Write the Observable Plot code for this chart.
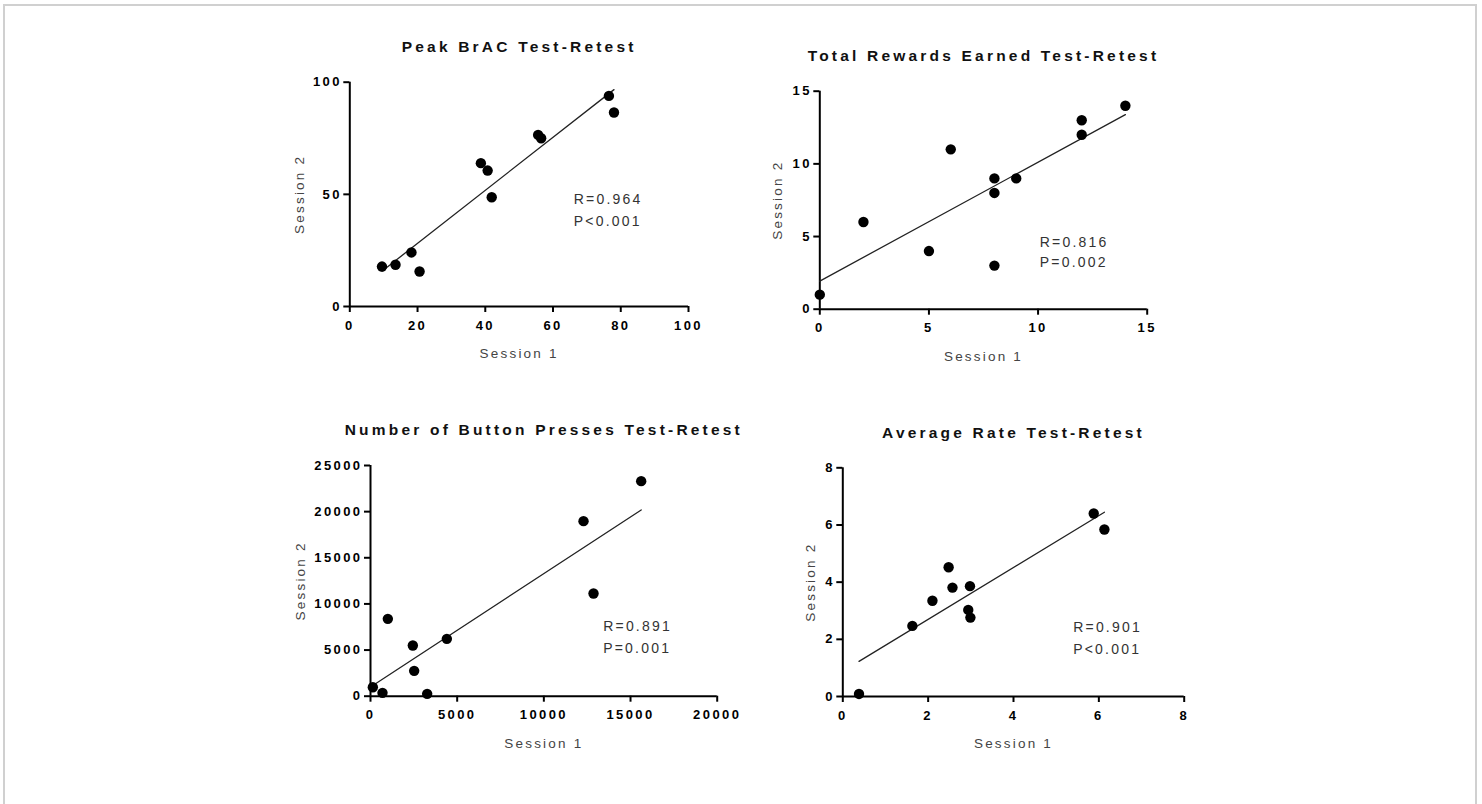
<!DOCTYPE html>
<html><head><meta charset="utf-8">
<script src="https://cdn.jsdelivr.net/npm/d3@7"></script>
<script src="https://cdn.jsdelivr.net/npm/@observablehq/plot@0.6"></script>
<style>
body{margin:0;background:#fff;}
#page{position:relative;width:1482px;height:804px;overflow:hidden;font-family:"Liberation Sans",Arial,sans-serif;background:#fff;}
#border{position:absolute;left:3px;top:4px;width:1474px;height:840px;border:2px solid #d0d0d0;box-sizing:border-box;}
.panel{position:absolute;}
</style></head><body><div id="page"><div id="border"></div></div>
<script>
// ---- data ----
const titles = ["Peak BrAC Test-Retest", "Total Rewards Earned Test-Retest", "Number of Button Presses Test-Retest", "Average Rate Test-Retest"];
const xLabel = "Session 1";
const yLabel = "Session 2";
const statR = ["R=0.964", "R=0.816", "R=0.891", "R=0.901"];
const statP = ["P<0.001", "P=0.002", "P=0.001", "P<0.001"];

const bracS1 = [9.5, 13.5, 18.2, 20.6, 38.7, 40.7, 41.9, 55.6, 56.5, 76.5, 78.0];
const bracS2 = [17.8, 18.6, 24.1, 15.6, 63.9, 60.6, 48.7, 76.5, 75.0, 93.9, 86.5];
const rewardsS1 = [0, 2, 5, 6, 8, 8, 8, 9, 12, 12, 14];
const rewardsS2 = [1, 6, 4, 11, 9, 8, 3, 9, 13, 12, 14];
const pressesS1 = [135, 692, 1000, 2442, 2519, 3269, 4404, 12288, 12865, 15615];
const pressesS2 = [975, 361, 8382, 5492, 2746, 253, 6214, 18968, 11128, 23304];
const rateS1 = [0.38, 1.63, 2.10, 2.48, 2.57, 2.98, 2.94, 2.99, 5.88, 6.13];
const rateS2 = [0.09, 2.47, 3.35, 4.52, 3.81, 3.86, 3.03, 2.76, 6.40, 5.84];

const bracTicksX = [0, 20, 40, 60, 80, 100];
const bracTicksY = [0, 50, 100];
const rewardsTicks = [0, 5, 10, 15];
const pressesTicksX = [0, 5000, 10000, 15000, 20000];
const pressesTicksY = [0, 5000, 10000, 15000, 20000, 25000];
const rateTicks = [0, 2, 4, 6, 8];

// ---- layout (page pixels) ----
const panels = [
  {xs: bracS1, ys: bracS2, xDomain: [0, 100], yDomain: [0, 100], xTicks: bracTicksX, yTicks: bracTicksY,
   box: {l: 240, t: 10, r: 740, b: 390}, frame: {l: 349.3, t: 81.7, r: 688, b: 306}, yLab: 50, stat: [224, 117.5, 139.5]},
  {xs: rewardsS1, ys: rewardsS2, xDomain: [0, 15], yDomain: [0, 15], xTicks: rewardsTicks, yTicks: rewardsTicks,
   box: {l: 740, t: 10, r: 1240, b: 390}, frame: {l: 819.3, t: 90.7, r: 1146.7, b: 308.7}, yLab: 42, stat: [220, 151.6, 171.6]},
  {xs: pressesS1, ys: pressesS2, xDomain: [0, 20000], yDomain: [0, 25000], xTicks: pressesTicksX, yTicks: pressesTicksY,
   box: {l: 240, t: 395, r: 760, b: 790}, frame: {l: 370, t: 465, r: 716.7, b: 695.7}, yLab: 70, stat: [232.7, 160.7, 182.7]},
  {xs: rateS1, ys: rateS2, xDomain: [0, 8], yDomain: [0, 8], xTicks: rateTicks, yTicks: rateTicks,
   box: {l: 760, t: 395, r: 1240, b: 790}, frame: {l: 842.3, t: 467.3, r: 1183.7, b: 696}, yLab: 32, stat: [230.4, 160, 182]}
];

const page = document.getElementById("page");
const FONT = "Liberation Sans, Arial, Helvetica, sans-serif";

panels.forEach((p, i) => {
  const data = p.xs.map((x, j) => ({x, y: p.ys[j]}));
  const chart = Plot.plot({
    width: p.box.r - p.box.l,
    height: p.box.b - p.box.t,
    marginLeft: p.frame.l - p.box.l,
    marginRight: p.box.r - p.frame.r,
    marginTop: p.frame.t - p.box.t,
    marginBottom: p.box.b - p.frame.b,
    style: {fontFamily: FONT, background: "transparent", overflow: "visible", color: "#000", letterSpacing: "2.4px"},
    x: {domain: p.xDomain},
    y: {domain: p.yDomain},
    marks: [
      Plot.axisX({ticks: p.xTicks, tickSize: 6, tickPadding: 8, strokeWidth: 2, fontSize: 13, fontWeight: "bold",
        tickFormat: d => String(d), label: null}),
      Plot.axisY({ticks: p.yTicks, tickSize: 6, tickPadding: 2, strokeWidth: 2, fontSize: 13, fontWeight: "bold",
        tickFormat: d => String(d), label: null}),
      Plot.ruleX([p.xDomain[0]], {stroke: "#000", strokeWidth: 2}),
      Plot.ruleY([p.yDomain[0]], {stroke: "#000", strokeWidth: 2}),
      Plot.linearRegressionY(data, {x: "x", y: "y", ci: 0, stroke: "#222", strokeWidth: 1.3}),
      Plot.dot(data, {x: "x", y: "y", r: 5.2, fill: "#000", stroke: null}),
      Plot.text([titles[i]], {text: d => d, frameAnchor: "top", dy: -35, lineAnchor: "middle", fontSize: 15.5, fontWeight: "bold", fill: "#111"}),
      Plot.text([xLabel], {text: d => d, frameAnchor: "bottom", dy: 47, lineAnchor: "middle", fontSize: 13.5, fill: "#444"}),
      Plot.text([yLabel], {text: d => d, frameAnchor: "left", dx: -p.yLab, rotate: -90, lineAnchor: "middle", textAnchor: "middle", fontSize: 13.5, fill: "#444"}),
      Plot.text([statR[i]], {text: d => d, frameAnchor: "top-left", dx: p.stat[0], dy: p.stat[1], textAnchor: "start", lineAnchor: "middle", fontSize: 14, fill: "#333"}),
      Plot.text([statP[i]], {text: d => d, frameAnchor: "top-left", dx: p.stat[0], dy: p.stat[2], textAnchor: "start", lineAnchor: "middle", fontSize: 14, fill: "#333"})
    ]
  });
  d3.select(chart).selectAll("text").each(function () {
    const t = this.textContent;
    let ls = "2.4px";
    if (titles.includes(t)) ls = "3.2px";
    else if (t === xLabel || t === yLabel) ls = "2.2px";
    else if (t.startsWith("R=") || t.startsWith("P")) ls = "2.2px";
    this.style.letterSpacing = ls;
  });
  chart.classList.add("panel");
  chart.style.left = p.box.l + "px";
  chart.style.top = p.box.t + "px";
  page.appendChild(chart);
});
</script>
</body></html>
